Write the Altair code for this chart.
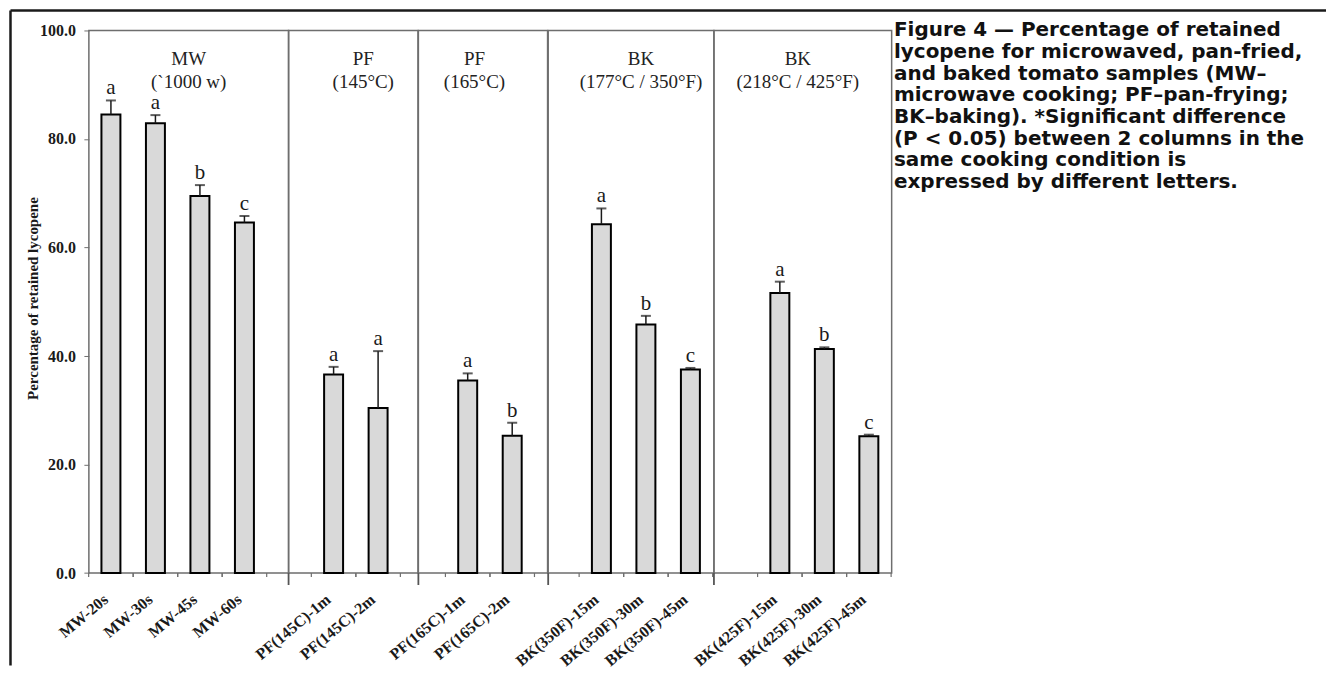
import altair as alt
import pandas as pd

# ---------------- data ----------------
headers = ["MW\n(`1000 w)", "PF\n(145°C)", "PF\n(165°C)",
           "BK\n(177°C / 350°F)", "BK\n(218°C / 425°F)"]
samples = [
    ["MW-20s", "MW-30s", "MW-45s", "MW-60s"],
    ["PF(145C)-1m", "PF(145C)-2m"],
    ["PF(165C)-1m", "PF(165C)-2m"],
    ["BK(350F)-15m", "BK(350F)-30m", "BK(350F)-45m"],
    ["BK(425F)-15m", "BK(425F)-30m", "BK(425F)-45m"],
]
means = [
    [84.5, 82.9, 69.5, 64.6],
    [36.6, 30.4],
    [35.5, 25.3],
    [64.3, 45.8, 37.5],
    [51.6, 41.3, 25.2],
]
errors = [
    [2.6, 1.5, 2.0, 1.2],
    [1.4, 10.5],
    [1.3, 2.4],
    [2.9, 1.6, 0.3],
    [2.1, 0.3, 0.3],
]
letters = [
    ["a", "a", "b", "c"],
    ["a", "a"],
    ["a", "b"],
    ["a", "b", "c"],
    ["a", "b", "c"],
]
y_ticks = [0, 20, 40, 60, 80, 100]
y_title = "Percentage of retained lycopene"
caption_lines = [
    "Figure 4 — Percentage of retained",
    "lycopene for microwaved, pan-fried,",
    "and baked tomato samples (MW–",
    "microwave cooking; PF–pan-frying;",
    "BK–baking). *Significant difference",
    "(P < 0.05) between 2 columns in the",
    "same cooking condition is",
    "expressed by different letters.",
]

# ---------------- layout / style ----------------
H = 543.4
panel_widths = [200, 129.6, 129.4, 166, 178]
pad_inner = 0.5737
pad_outer = [0.5305, 0.7408, 0.7385, 0.6491, 0.7837]
band_align = [0.266, 0.539, 0.606, 0.757, 0.809]
header_dx = [0, 10, -8.5, 10, -5]
half_step = 22.3
SERIF = "Liberation Serif"
INK = "#1a1a1a"
FRAME = "#6e6e6e"


def panel(i):
    df = pd.DataFrame({
        "sample": samples[i],
        "mean": means[i],
        "err": errors[i],
        "letter": letters[i],
    })
    df["top"] = df["mean"] + df["err"]
    W = panel_widths[i]

    xscale = alt.Scale(domain=samples[i], paddingInner=pad_inner,
                       paddingOuter=pad_outer[i], align=band_align[i])
    xaxis = alt.Axis(title=None, labelAngle=320, labelAlign="right",
                     labelBaseline="middle", labelPadding=24, labelOffset=-5,
                     ticks=False, tickSize=0, domain=False, labelOverlap=False,
                     labelFont=SERIF, labelFontSize=16, labelFontWeight="bold",
                     labelColor=INK, grid=False)
    x_enc = alt.X("sample:N", scale=xscale, axis=xaxis, sort=samples[i])

    yscale = alt.Scale(domain=[0, 100], nice=False, zero=True)
    if i == 0:
        yaxis = alt.Axis(values=y_ticks, format=".1f", title=y_title,
                         grid=False, domain=False, ticks=True, tickSize=5,
                         tickColor=FRAME, labelPadding=8.5,
                         labelFont=SERIF, labelFontSize=16,
                         labelFontWeight="bold", labelColor=INK,
                         titleFont=SERIF, titleFontSize=15,
                         titleFontWeight="bold", titleColor=INK,
                         titleAngle=270, titleX=-56, titleY=268,
                         titleAlign="center", titleBaseline="middle")
    else:
        yaxis = None

    def y_enc(field):
        return alt.Y(f"{field}:Q", scale=yscale, axis=yaxis)

    base = alt.Chart(df)
    bars = base.mark_bar(fill="#d9d9d9", stroke="black", strokeWidth=2).encode(
        x=x_enc, y=y_enc("mean"))
    err_line = base.mark_rule(color=INK, strokeWidth=1.5).encode(
        x=x_enc, y=y_enc("mean"), y2="top:Q")
    err_cap = base.mark_tick(color=INK, size=10, thickness=2).encode(
        x=x_enc, y=y_enc("top"))
    lett = base.mark_text(font=SERIF, fontSize=21, baseline="alphabetic",
                          dy=-6, color=INK).encode(
        x=x_enc, y=y_enc("top"), text="letter:N")
    tick_l = base.mark_rule(color=FRAME, strokeWidth=1.2, xOffset=-half_step).encode(
        x=x_enc, y=alt.value(H), y2=alt.value(H + 4))
    tick_r = base.mark_rule(color=FRAME, strokeWidth=1.2, xOffset=half_step).encode(
        x=x_enc, y=alt.value(H), y2=alt.value(H + 4))

    one = alt.Data(values=[{"h": headers[i]}])
    header = alt.Chart(one).mark_text(
        font=SERIF, fontSize=19, baseline="alphabetic", align="center",
        lineBreak="\n", lineHeight=22.5, color="#222222").encode(
        x=alt.value(W / 2 + header_dx[i]), y=alt.value(35), text="h:N")

    layers = [bars, err_line, err_cap, lett, tick_l, tick_r, header]

    if i > 0:
        divider_ext = alt.Chart(one).mark_rule(color="#555555", strokeWidth=1.8).encode(
            x=alt.value(0), y=alt.value(H), y2=alt.value(H + 12))
        layers.append(divider_ext)

    if i == 0:
        top_border = alt.Chart(one).mark_rule(color="#1a1a1a", strokeWidth=2.5).encode(
            x=alt.value(-78.5), x2=alt.value(1239), y=alt.value(-20))
        left_border = alt.Chart(one).mark_rule(color="#1a1a1a", strokeWidth=2.5).encode(
            x=alt.value(-78.5), y=alt.value(-20), y2=alt.value(636))
        layers += [top_border, left_border]

    if i == len(samples) - 1:
        cap_data = alt.Data(values=[{"c": "\n".join(caption_lines)}])
        caption = alt.Chart(cap_data).mark_text(
            font="DejaVu Sans", fontSize=20, fontWeight="bold", align="left",
            baseline="alphabetic", lineBreak="\n", lineHeight=21.7,
            color="#111111").encode(
            x=alt.value(W + 2.3), y=alt.value(5.9), text="c:N")
        layers.append(caption)

    return alt.layer(*layers).properties(width=W, height=H)


chart = alt.hconcat(*[panel(i) for i in range(len(samples))],
                    spacing=0, bounds="flush").properties(
    padding=0, background="white"
).configure_view(stroke=FRAME, strokeWidth=1.5)

chart.save("out.html", embed_options={"renderer": "svg", "actions": False})
